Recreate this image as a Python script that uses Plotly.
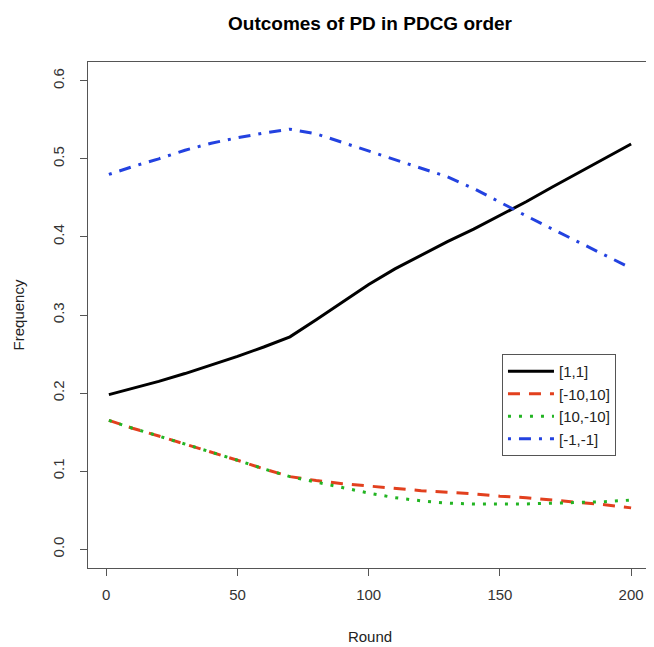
import plotly.graph_objects as go

rounds = [1, 10, 20, 30, 40, 50, 60, 70, 80, 90, 100, 110, 120, 130, 140, 150, 160, 170, 180, 190, 200]
coop = [0.198, 0.206, 0.215, 0.225, 0.236, 0.247, 0.259, 0.272, 0.294, 0.317, 0.339, 0.359, 0.377, 0.394, 0.410, 0.427, 0.445, 0.464, 0.482, 0.501, 0.519]
sucker = [0.165, 0.155, 0.145, 0.135, 0.125, 0.114, 0.103, 0.093, 0.088, 0.084, 0.081, 0.078, 0.075, 0.073, 0.071, 0.068, 0.066, 0.063, 0.060, 0.057, 0.053]
temptation = [0.165, 0.155, 0.145, 0.135, 0.125, 0.114, 0.103, 0.093, 0.086, 0.079, 0.072, 0.066, 0.062, 0.059, 0.058, 0.058, 0.058, 0.059, 0.060, 0.061, 0.063]
defect = [0.480, 0.490, 0.500, 0.511, 0.520, 0.527, 0.533, 0.538, 0.532, 0.521, 0.510, 0.499, 0.489, 0.477, 0.462, 0.444, 0.427, 0.410, 0.393, 0.377, 0.360]

series = [
    ("[1,1]", coop, "black", "solid"),
    ("[-10,10]", sucker, "#E2401E", "12px,9px"),
    ("[10,-10]", temptation, "#22B422", "3px,8px"),
    ("[-1,-1]", defect, "#2342E0", "3px,8px,12px,8px"),
]

FONT = "Liberation Sans, Arial"

fig = go.Figure()
for name, vals, color, dash in series:
    fig.add_trace(go.Scatter(x=rounds, y=vals, mode="lines", name=name,
                             line=dict(color=color, width=3, dash=dash)))

axis_common = dict(
    showline=True, linecolor="#555", linewidth=1, mirror=True,
    ticks="outside", ticklen=7, tickcolor="#555", showgrid=False, zeroline=False,
    automargin=False,
    tickfont=dict(family=FONT, size=15, color="#333"),
)

# page body has an 8px default margin; size the figure so it fills the window
W, H = 646, 639
fig.update_layout(
    width=W, height=H,
    margin=dict(l=80, r=2, t=54, b=79),
    paper_bgcolor="white", plot_bgcolor="white",
    title=dict(text="<b>Outcomes of PD in PDCG order</b>", xref="paper", x=0.5, xanchor="center",
               yref="container", y=1 - 15 / H, yanchor="middle",
               font=dict(family=FONT, size=19, color="black")),
    xaxis=dict(range=[-6.96, 207.96], tickvals=[0, 50, 100, 150, 200],
               title=dict(text="Round", standoff=29,
                          font=dict(family=FONT, size=15, color="#222")),
               ticklabelstandoff=6, **axis_common),
    yaxis=dict(range=[-0.024, 0.624], tickvals=[0, 0.1, 0.2, 0.3, 0.4, 0.5, 0.6],
               ticktext=["0.0", "0.1", "0.2", "0.3", "0.4", "0.5", "0.6"],
               tickangle=-90,
               title=dict(text="Frequency", standoff=21,
                          font=dict(family=FONT, size=15, color="#222")),
               ticklabelstandoff=10, **axis_common),
    legend=dict(x=0.734, y=0.423, xanchor="left", yanchor="top",
                bordercolor="#555", borderwidth=1, bgcolor="white",
                font=dict(family=FONT, size=15, color="#222"),
                tracegroupgap=0, itemwidth=46),
    showlegend=True,
)

fig.write_html("out.html")
